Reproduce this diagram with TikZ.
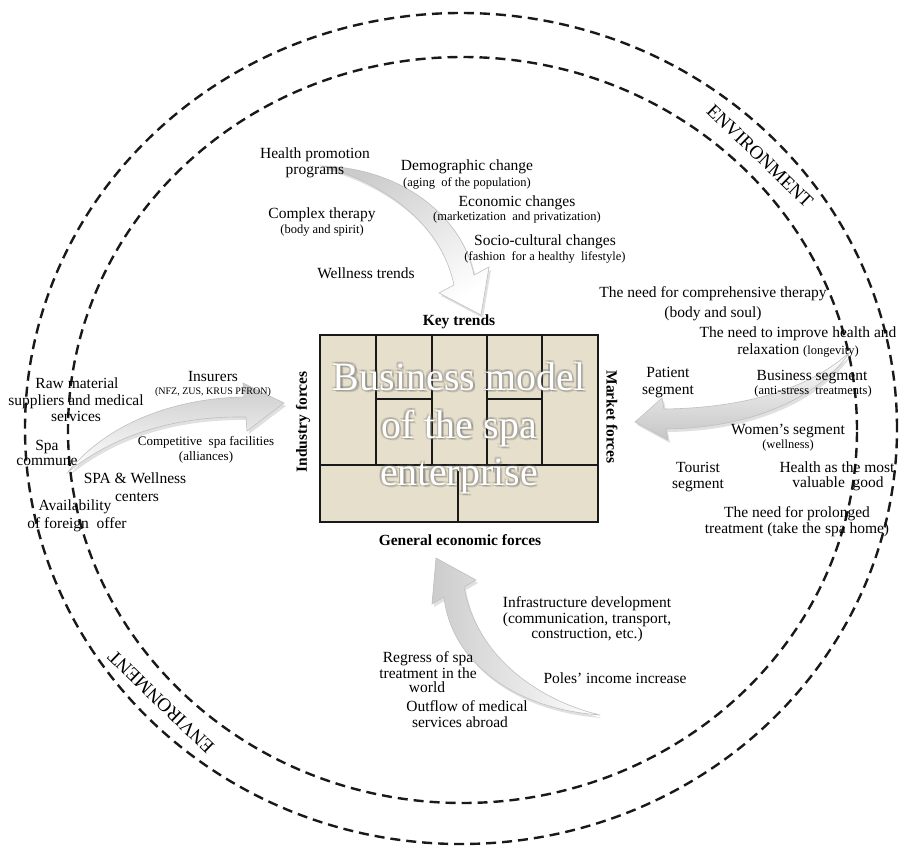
\documentclass[tikz,border=0pt]{standalone}
\usepackage{fontspec}
\setmainfont{Liberation Serif}
\definecolor{cellfill}{HTML}{E6DFCB}
\begin{document}
\begin{tikzpicture}[x=1pt,y=-1pt,
  txt/.style={anchor=base, inner sep=0pt, font=\fontsize{15.5}{16.5}\selectfont},
  sml/.style={anchor=base, inner sep=0pt, font=\fontsize{12.5}{14}\selectfont},
  tinytxt/.style={anchor=base, inner sep=0pt, font=\fontsize{10}{12}\selectfont},
  midtxt/.style={anchor=base, inner sep=0pt, font=\fontsize{13}{15}\selectfont},
  lbl/.style={inner sep=0pt, font=\fontsize{15.5}{17}\selectfont\bfseries},
  env/.style={inner sep=0pt, font=\fontsize{19}{21}\selectfont},
  ring/.style={draw=black!90, line width=2.4pt, dash pattern=on 10pt off 6pt},
  cellline/.style={draw=black!90, line width=2pt},
  bigarrow/.style={draw=gray!50, line width=0.6pt,
    preaction={fill=black, opacity=0.12, transform canvas={shift={(2,3)}}}},
  titletxt/.style={anchor=base, inner sep=0pt, font=\fontsize{40}{48}\selectfont},
  glowtxt/.style={titletxt, text=black!60, opacity=0.25},
]
\useasboundingbox (0,0) rectangle (899,846);

% environment rings
\draw[ring] (461,428.5) ellipse [x radius=436pt, y radius=415.5pt];
\draw[ring] (462.5,430) ellipse [x radius=394.5pt, y radius=373pt];
\node[env, rotate=-44] (envA) at (760,156) {ENVIRONMENT};
\node[env, rotate=136] (envB) at (161,702) {ENVIRONMENT};

% business model canvas
\fill[cellfill] (320,335) rectangle (598,522);
\draw[cellline] (320,335) rectangle (598,522);
\foreach \xx in {376,432,487,542} \draw[cellline] (\xx,335) -- (\xx,465);
\draw[cellline] (320,465) -- (598,465);
\draw[cellline] (376,399) -- (432,399);
\draw[cellline] (487,399) -- (542,399);
\draw[cellline] (458,465) -- (458,522);

% curved force arrows
\draw[bigarrow, top color=gray!40, bottom color=white, shading angle=30]
  (322,166) .. controls (400,168) and (462,215) .. (474,275) -- (489,267) -- (481,315)
  -- (439,293) -- (454,285) .. controls (442,228) and (392,186) .. (322,166) -- cycle;
\draw[bigarrow, top color=gray!40, bottom color=white]
  (68,472) .. controls (110,420) and (180,398) .. (244,397) -- (243,383) -- (284,403)
  -- (247,431) -- (246,417) .. controls (180,416) and (118,432) .. (68,472) -- cycle;
\draw[bigarrow, top color=white, bottom color=gray!45]
  (666,429) .. controls (752,428) and (818,398) .. (850,352) .. controls (808,390) and (742,408) .. (664,409)
  -- (662,398) -- (635,422) -- (668,440) -- cycle;
\draw[bigarrow, left color=gray!40, right color=white]
  (444,597) .. controls (450,655) and (505,708) .. (600,715) .. controls (530,698) and (475,650) .. (464,587)
  -- (476,580) -- (436,558) -- (432,604) -- cycle;

% title: soft grey halo under white letters
\foreach \dx/\dy [count=\k] in {1.5/1.5,-1.5/1.5,1.5/-1.5,-1.5/-1.5,2.2/2.8} {
  \node[glowtxt] (glowa\k) at (459+\dx,390+\dy) {Business model};
  \node[glowtxt] (glowb\k) at (459+\dx,438+\dy) {of the spa};
  \node[glowtxt] (glowc\k) at (459+\dx,485+\dy) {enterprise};
}
\node[titletxt, text=white] (titleA) at (459,390) {Business model};
\node[titletxt, text=white] (titleB) at (459,438) {of the spa};
\node[titletxt, text=white] (titleC) at (459,485) {enterprise};

% side labels
\node[lbl, anchor=base] (kt) at (459,325) {Key trends};
\node[lbl, anchor=base] (ge) at (460,545) {General economic forces};
\node[lbl, rotate=90] (ind) at (303,422) {Industry forces};
\node[lbl, rotate=-90] (mf) at (612,417) {Market forces};

% key trends
\node[txt] (hp1) at (315,158) {Health promotion};
\node[txt] (hp2) at (315,174) {programs};
\node[txt] (dc1) at (467,170) {Demographic change};
\node[sml] (dc2) at (467,186) {(aging\ \ of the population)};
\node[txt] (ec1) at (517,206) {Economic changes};
\node[sml] (ec2) at (517,220) {(marketization\ \ and privatization)};
\node[txt] (ct1) at (322,218) {Complex therapy};
\node[sml] (ct2) at (322,233) {(body and spirit)};
\node[txt] (sc1) at (545,245) {Socio-cultural changes};
\node[sml] (sc2) at (545,260) {(fashion\ \ for a healthy\ \ lifestyle)};
\node[txt] (wt) at (366,278) {Wellness trends};

% industry forces
\node[txt] (rm1) at (77,388) {Raw material};
\node[txt] (rm2) at (76,405) {suppliers and medical};
\node[txt] (rm3) at (76,421) {services};
\node[txt] (sp1) at (47,450) {Spa};
\node[txt] (sp2) at (47,465) {commune};
\node[txt] (in1) at (213,381) {Insurers};
\node[tinytxt] (in2) at (213,394) {(NFZ, ZUS, KRUS PFRON)};
\node[midtxt] (cs1) at (206,445) {Competitive\ \ spa facilities};
\node[midtxt] (cs2) at (206,460) {(alliances)};
\node[txt] (sw1) at (135,483) {SPA \& Wellness};
\node[txt] (sw2) at (137,501) {centers};
\node[txt] (av1) at (75,510) {Availability};
\node[txt] (av2) at (77,528) {of foreign\ \ offer};

% market forces
\node[txt] (nc1) at (713,297) {The need for comprehensive therapy};
\node[txt] (nc2) at (713,317) {(body and soul)};
\node[txt] (ni1) at (798,337) {The need to improve health and};
\node[txt] (ni2) at (798,354) {relaxation {\fontsize{12.5}{14}\selectfont(longevity)}};
\node[txt] (ps1) at (668,377) {Patient};
\node[txt] (ps2) at (668,394) {segment};
\node[txt] (bs1) at (812,380) {Business segment};
\node[sml] (bs2) at (813,394) {(anti-stress\ \ treatments)};
\node[txt] (ws1) at (788,434) {Women's segment};
\node[sml] (ws2) at (788,448) {(wellness)};
\node[txt] (ts1) at (698,472) {Tourist};
\node[txt] (ts2) at (698,488) {segment};
\node[txt] (hv1) at (837,472) {Health as the most};
\node[txt] (hv2) at (838,487) {valuable\ \ good};
\node[txt] (pt1) at (797,517) {The need for prolonged};
\node[txt] (pt2) at (797,533) {treatment (take the spa home)};

% general economic forces
\node[txt] (id1) at (587,607) {Infrastructure development};
\node[txt] (id2) at (587,623) {(communication, transport,};
\node[txt] (id3) at (587,638) {construction, etc.)};
\node[txt] (rg1) at (428,662) {Regress of spa};
\node[txt] (rg2) at (428,678) {treatment in the};
\node[txt] (rg3) at (427,692) {world};
\node[txt] (pi) at (615,683) {Poles' income increase};
\node[txt] (of1) at (467,711) {Outflow of medical};
\node[txt] (of2) at (460,727) {services abroad};
\end{tikzpicture}
\end{document}
